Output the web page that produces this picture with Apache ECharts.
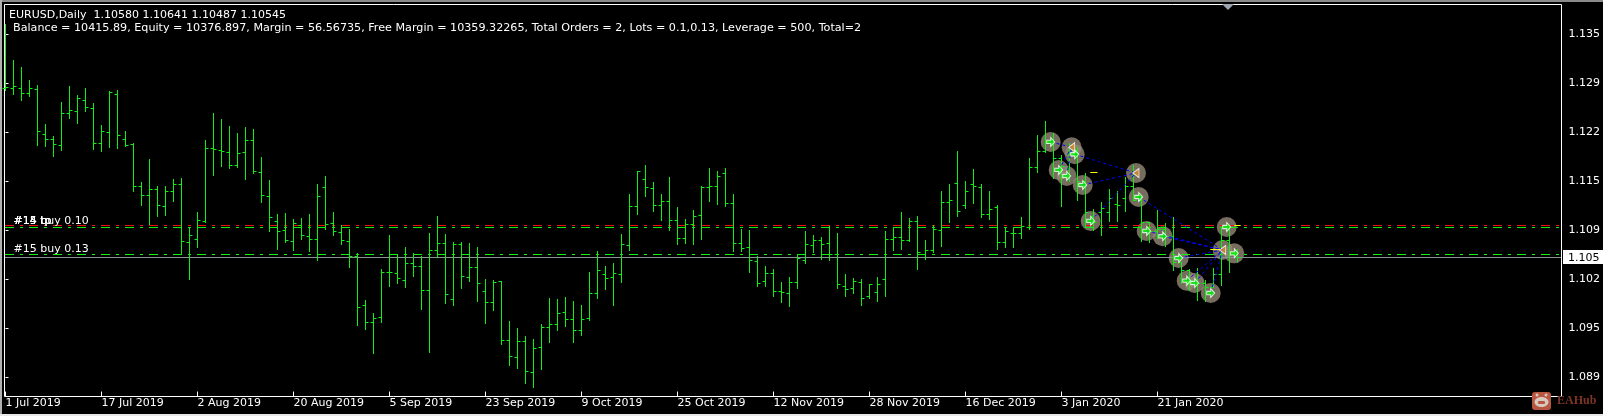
<!DOCTYPE html>
<html><head><meta charset="utf-8">
<style>html,body{margin:0;padding:0;background:#000}#c{width:1603px;height:416px}</style>
<script src="https://cdn.jsdelivr.net/npm/echarts@6/dist/echarts.min.js"></script>
</head><body><div id="c"></div>
<script>
const dateLabels=["1 Jul 2019","17 Jul 2019","2 Aug 2019","20 Aug 2019","5 Sep 2019","23 Sep 2019","9 Oct 2019","25 Oct 2019","12 Nov 2019","28 Nov 2019","16 Dec 2019","3 Jan 2020","21 Jan 2020"];
const tickPrices=[1.13571,1.12906,1.12241,1.11576,1.10911,1.10246,1.09581,1.08916];
const tickLabels=["1.135","1.129","1.122","1.115","1.109","1.102","1.095","1.089"];
const opens=[1.12830,1.12830,1.12830,1.12763,1.12817,1.12207,1.12139,1.12057,1.12491,1.12518,
1.12668,1.12559,1.12084,1.12234,1.12750,1.12139,1.12071,1.11501,1.11379,1.11460,
1.11230,1.11433,1.11528,1.10741,1.10781,1.11026,1.12017,1.11990,1.11963,1.11786,
1.11963,1.12125,1.11691,1.11365,1.11026,1.10904,1.10754,1.10972,1.10823,1.10781,
1.11487,1.10999,1.10877,1.10754,1.10551,1.09886,1.09656,1.09723,1.10334,1.10321,
1.10225,1.10456,1.10415,1.10090,1.10632,1.10727,1.09968,1.10714,1.10266,1.10402,
1.10076,1.09927,1.10212,1.09411,1.09180,1.09398,1.08977,1.09316,1.09587,1.09628,
1.09791,1.09696,1.09547,1.09710,1.10049,1.10307,1.10266,1.10307,1.10700,1.11230,
1.11596,1.11473,1.11243,1.11297,1.11040,1.10795,1.10986,1.11107,1.11487,1.11501,
1.11677,1.11270,1.10727,1.10673,1.10483,1.10212,1.10321,1.10076,1.10049,1.10198,
1.10497,1.10700,1.10768,1.10727,1.10578,1.10144,1.10117,1.10198,1.10009,1.10063,
1.10238,1.10781,1.10809,1.10768,1.11026,1.10578,1.10632,1.10904,1.11284,1.11542,
1.11243,1.11528,1.11487,1.11121,1.11216,1.10741,1.10863,1.10863,1.10945,1.11759,
1.11976,1.12084,1.11881,1.11746,1.11990,1.11569,1.11094,1.11148,1.11148,1.11257,
1.11338,1.11501,1.11311,1.11013,1.10890,1.10917,1.10823,1.10470,1.10361,1.10225,
1.10185,1.10130,1.10307,1.10768,1.10580];
const highs=[1.13700,1.13211,1.13116,1.12939,1.12871,1.12343,1.12180,1.12641,1.12858,1.12736,
1.12830,1.12627,1.12329,1.12790,1.12804,1.12247,1.12084,1.11555,1.11868,1.11501,
1.11501,1.11596,1.11609,1.10945,1.11148,1.12125,1.12491,1.12410,1.12315,1.12220,
1.12302,1.12275,1.11895,1.11582,1.11121,1.11134,1.11053,1.11067,1.11121,1.11528,
1.11636,1.11148,1.10972,1.10917,1.10591,1.09954,1.09777,1.10375,1.10836,1.10578,
1.10673,1.10591,1.10551,1.10863,1.11094,1.10850,1.10741,1.10741,1.10727,1.10673,
1.10238,1.10225,1.10212,1.09669,1.09574,1.09465,1.09424,1.09628,1.09981,1.09968,
1.09995,1.09940,1.09886,1.10334,1.10618,1.10415,1.10456,1.10850,1.11393,1.11704,
1.11786,1.11555,1.11393,1.11623,1.11216,1.11053,1.11175,1.11501,1.11746,1.11704,
1.11746,1.11393,1.10917,1.10904,1.10551,1.10415,1.10375,1.10198,1.10266,1.10578,
1.10890,1.10836,1.10809,1.10958,1.10863,1.10307,1.10252,1.10238,1.10171,1.10266,
1.10890,1.10945,1.11148,1.11067,1.11094,1.10768,1.10972,1.11433,1.11528,1.11976,
1.11569,1.11732,1.11528,1.11433,1.11243,1.10945,1.10945,1.11080,1.11881,1.12193,
1.12383,1.12220,1.11922,1.12084,1.12030,1.11677,1.11189,1.11284,1.11460,1.11433,
1.11623,1.11786,1.11379,1.11013,1.11175,1.10999,1.11080,1.10470,1.10375,1.10388,
1.10225,1.10388,1.10945,1.10972,1.10641];
const lows=[1.12804,1.12750,1.12668,1.12723,1.12057,1.12044,1.11908,1.11990,1.12423,1.12356,
1.12518,1.12003,1.11976,1.12030,1.12017,1.12044,1.11433,1.11243,1.10986,1.11094,
1.11107,1.11297,1.10578,1.10238,1.10673,1.11013,1.11651,1.11773,1.11746,1.11759,
1.11596,1.11677,1.11284,1.10890,1.10646,1.10741,1.10632,1.10781,1.10618,1.10497,
1.10917,1.10836,1.10714,1.10402,1.09615,1.09561,1.09234,1.09656,1.10144,1.10185,
1.10130,1.10280,1.09832,1.09248,1.10538,1.09913,1.09886,1.10117,1.10212,1.09940,
1.09642,1.09818,1.09357,1.09072,1.09031,1.08827,1.08773,1.09017,1.09384,1.09547,
1.09601,1.09384,1.09479,1.09683,1.09981,1.10103,1.09886,1.10198,1.10632,1.11121,
1.11365,1.11162,1.11040,1.10904,1.10714,1.10727,1.10714,1.10781,1.11297,1.11257,
1.11230,1.10618,1.10618,1.10334,1.10144,1.10144,1.10009,1.09927,1.09873,1.10117,
1.10456,1.10605,1.10510,1.10497,1.10117,1.10009,1.10049,1.09886,1.09981,1.09940,
1.10009,1.10632,1.10646,1.10754,1.10375,1.10510,1.10605,1.10686,1.11013,1.11094,
1.11202,1.11270,1.11080,1.11053,1.10646,1.10673,1.10673,1.10795,1.10917,1.11691,
1.11963,1.11609,1.11230,1.11569,1.11311,1.10958,1.10904,1.10836,1.11026,1.11026,
1.11162,1.11311,1.10754,1.10741,1.10795,1.10686,1.10361,1.10185,1.10090,1.09954,
1.09940,1.10130,1.10158,1.10334,1.10487];
const closes=[1.12844,1.12858,1.12763,1.12830,1.12247,1.12139,1.12071,1.12491,1.12532,1.12695,
1.12573,1.12084,1.12247,1.12777,1.12193,1.12057,1.11501,1.11379,1.11460,1.11243,
1.11433,1.11528,1.10754,1.10836,1.11040,1.12017,1.12003,1.11976,1.11786,1.11949,
1.12125,1.11704,1.11379,1.11080,1.10890,1.10768,1.10999,1.10836,1.10781,1.11365,
1.10986,1.10890,1.10768,1.10551,1.09859,1.09656,1.09710,1.10334,1.10334,1.10252,
1.10456,1.10415,1.10090,1.10632,1.10727,1.10036,1.10714,1.10280,1.10402,1.10185,
1.09927,1.10198,1.09411,1.09194,1.09398,1.08990,1.09302,1.09587,1.09628,1.09777,
1.09696,1.09547,1.09696,1.10049,1.10361,1.10252,1.10321,1.10714,1.11230,1.11704,
1.11487,1.11243,1.11297,1.11040,1.10795,1.10986,1.11094,1.11487,1.11501,1.11636,
1.11270,1.10727,1.10659,1.10497,1.10185,1.10321,1.10076,1.10063,1.10198,1.10524,
1.10714,1.10768,1.10714,1.10578,1.10171,1.10103,1.10212,1.09981,1.10171,1.10171,
1.10781,1.10809,1.10768,1.11026,1.10605,1.10632,1.10917,1.11284,1.11311,1.11162,
1.11433,1.11501,1.11121,1.11189,1.10741,1.10890,1.10863,1.10958,1.11759,1.11976,
1.12084,1.11881,1.11773,1.11990,1.11569,1.11148,1.11013,1.11202,1.11338,1.11243,
1.11501,1.11311,1.11013,1.10890,1.10917,1.10823,1.10470,1.10361,1.10225,1.10185,
1.10130,1.10307,1.10768,1.10578,1.10545];
const redLevels=[1.10972];
const greenLevels=[1.10945,1.10578];
const lastPrice=1.10545;
const buyMarks=[[130.65,1.12107],[133.65,1.11940],[131.65,1.11727],[132.65,1.11645],[134.65,1.11523],[135.65,1.11035],[141.65,1.11360],[142.65,1.10899],[144.65,1.10827],[146.65,1.10532],[147.65,1.10225],[148.65,1.10193],[150.65,1.10057],[152.65,1.10953],[153.6,1.10596]];
const sellMarks=[[133.27,1.12035],[141.31,1.11686],[152.15,1.10641]];
const tradeLinks=[[0,0],[2,0],[3,0],[1,1],[4,1],[5,1],[6,2],[7,2],[8,2],[9,2],[10,2],[11,2],[12,2]];
const yellowDashes=[[135.6,136.5,1.11686],[150.6,151.8,1.10641],[153.6,154.4,1.10977]];

const GREEN='#10f010';
const snapY=y=>Math.floor(y)+0.5;
const hLines=[...redLevels.map(v=>[v,'#f01010',[9,6,3,6]]),...greenLevels.map(v=>[v,GREEN,[9,6,3,6]]),[lastPrice,'#8a929a',null]];
const XMIN=-0.125,XMAX=194.5;
const arrowPath='path://M0,3.5 H5 V0 L10,5.5 L5,11 V7.5 H0 Z';
const sellPath='path://M10,0 L10,12 L0,6 Z';
const chart=echarts.init(document.getElementById('c'),null,{renderer:'canvas',width:1603,height:416});
const txt=(x,y,t,extra)=>({type:'text',x,y,silent:true,z:50,style:Object.assign({text:t,fill:'#fff',font:'11px "DejaVu Sans"',textVerticalAlign:'middle',textBaseline:'middle'},extra||{})});
chart.setOption({
 animation:false,backgroundColor:'#000',
 grid:{left:4.5,top:4.5,width:1557,height:392,show:true,borderColor:'#fff',borderWidth:1,backgroundColor:'#000',containLabel:false},
 xAxis:{type:'value',min:XMIN,max:XMAX,splitLine:{show:false},axisLine:{show:false},
  axisTick:{show:true,inside:true,length:5,lineStyle:{color:'#fff'},customValues:dateLabels.map((d,i)=>i*12)},
  axisLabel:{color:'#fff',fontFamily:'DejaVu Sans',fontSize:11,align:'left',margin:1,lineHeight:11,padding:[0,0,0,0],customValues:dateLabels.map((d,i)=>i*12),formatter:v=>dateLabels[v/12]}},
 yAxis:{type:'value',position:'right',min:1.08653,max:1.13972,splitLine:{show:false},axisLine:{show:false},
  axisTick:{show:true,length:3,lineStyle:{color:'#fff'},customValues:tickPrices},
  axisLabel:{color:'#fff',fontFamily:'DejaVu Sans',fontSize:11,margin:7,padding:[2,0,0,0],customValues:tickPrices,formatter:v=>tickLabels[tickPrices.indexOf(v)]}},
 series:[
  {type:'scatter',z:1,silent:true,symbol:'circle',symbolSize:20,itemStyle:{color:'#938877'},data:[...buyMarks,...sellMarks]},
  {type:'custom',z:2,silent:true,clip:false,data:hLines.map((h,i)=>[i]),renderItem:(p,api)=>{
    const h=hLines[api.value(0)];const y=snapY(api.coord([0,h[0]])[1]);
    return {type:'line',shape:{x1:5,y1:y,x2:1561,y2:y},style:{stroke:h[1],lineWidth:1,lineDash:h[2]||undefined}};}},
  {type:'custom',z:3,silent:true,clip:false,data:opens.map((o,i)=>[i,o,highs[i],lows[i],closes[i]]),renderItem:(p,api)=>{
    const k=api.value(0);const x=Math.floor(api.coord([k,0])[0])+0.5;
    const yo=snapY(api.coord([k,api.value(1)])[1]),yh=Math.floor(api.coord([k,api.value(2)])[1]),yl=Math.floor(api.coord([k,api.value(3)])[1])+1,yc=snapY(api.coord([k,api.value(4)])[1]);
    const st={stroke:GREEN,lineWidth:1};
    return {type:'group',children:[
     {type:'line',shape:{x1:x,y1:yh,x2:x,y2:yl},style:st},
     {type:'line',shape:{x1:x-3,y1:yo,x2:x,y2:yo},style:st},
     {type:'line',shape:{x1:x,y1:yc,x2:x+3,y2:yc},style:st}]};}},
  {type:'custom',z:4,silent:true,clip:false,data:tradeLinks,renderItem:(p,api)=>{
    const a=api.coord(buyMarks[api.value(0)]),b=api.coord(sellMarks[api.value(1)]);
    return {type:'line',shape:{x1:a[0],y1:a[1],x2:b[0],y2:b[1]},style:{stroke:'#0000ff',lineWidth:1,lineDash:[3,3]}};}},
  {type:'custom',z:5,silent:true,clip:false,data:yellowDashes,renderItem:(p,api)=>{
    const a=api.coord([api.value(0),api.value(2)]),b=api.coord([api.value(1),api.value(2)]);const y=snapY(a[1]);
    return {type:'line',shape:{x1:a[0],y1:y,x2:b[0],y2:y},style:{stroke:'#ffff00',lineWidth:1}};}},
  {type:'scatter',z:6,silent:true,symbol:arrowPath,symbolSize:[8,9],itemStyle:{color:'#00ff00',borderColor:'#fff',borderWidth:1},data:buyMarks},
  {type:'scatter',z:6,silent:true,symbol:sellPath,symbolSize:[6,9],itemStyle:{color:'#d98c20',borderColor:'#fff',borderWidth:1},data:sellMarks}
 ],
 graphic:[
  {type:'rect',silent:true,z:40,shape:{x:0,y:0,width:1603,height:2},style:{fill:'#8a8a8a'}},
  {type:'rect',silent:true,z:40,shape:{x:0,y:0,width:2,height:416},style:{fill:'#b0b0b0'}},
  {type:'rect',silent:true,z:40,shape:{x:0,y:414,width:1603,height:2},style:{fill:'#e8e8e8'}},
  {type:'polygon',silent:true,z:40,shape:{points:[[1222,4],[1234,4],[1228,10]]},style:{fill:'#9aa5b0'}},
  txt(9,15,'EURUSD,Daily  1.10580 1.10641 1.10487 1.10545'),
  txt(13,28,'Balance = 10415.89, Equity = 10376.897, Margin = 56.56735, Free Margin = 10359.32265, Total Orders = 2, Lots = 0.1,0.13, Leverage = 500, Total=2',{font:'11.16px "DejaVu Sans"'}),
  txt(13.5,221,'#14 buy 0.10'),txt(13.5,221,'#14 tp'),txt(13.5,221,'#15 tp'),
  txt(13.5,249,'#15 buy 0.13'),
  {type:'rect',silent:true,z:45,shape:{x:1563,y:250,width:40,height:14},style:{fill:'#fff'}},
  txt(1568,258,'1.105',{fill:'#000'}),
  {type:'rect',silent:true,z:60,shape:{x:1532,y:392,width:19,height:18,r:3},style:{fill:'#b8573f'}},
  {type:'circle',silent:true,z:61,shape:{cx:1537,cy:395,r:1.5},style:{fill:'#d8c8c0'}},
  {type:'circle',silent:true,z:61,shape:{cx:1546,cy:395,r:1.5},style:{fill:'#d8c8c0'}},
  {type:'ellipse',silent:true,z:61,shape:{cx:1541.5,cy:402,rx:7,ry:5},style:{fill:'#d8c8c0'}},
  {type:'rect',silent:true,z:62,shape:{x:1538,y:401,width:7,height:3,r:1},style:{fill:'#b8573f'}},
  {type:'text',silent:true,z:60,x:1557,y:401,style:{text:'EAHub',fill:'#7f3526',font:'bold 12px "Liberation Serif"',textBaseline:'middle',textVerticalAlign:'middle'}}
 ]
});
</script></body></html>
